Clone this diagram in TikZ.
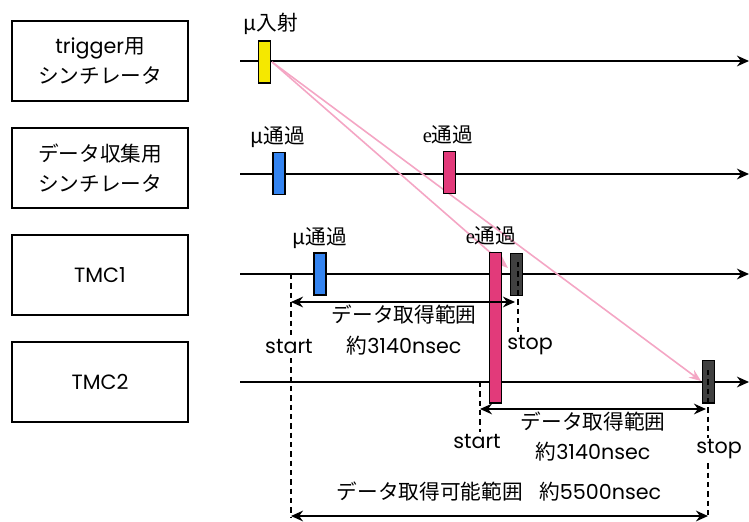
\documentclass[tikz,border=0pt]{standalone}
\usepackage{fontspec}
\setmainfont{Noto Sans CJK JP}
\newfontfamily\serifE{Liberation Serif}
\newfontfamily\lat{Poppins}
\usetikzlibrary{arrows.meta}
\definecolor{ybar}{RGB}{245,232,0}
\definecolor{bbar}{RGB}{52,132,240}
\definecolor{pbar}{RGB}{226,58,122}
\definecolor{dbar}{RGB}{64,64,64}
\definecolor{pline}{RGB}{244,166,196}
\tikzset{
  lbox/.style={draw=black, line width=1.1pt, minimum width=132pt, minimum height=60pt, align=center, inner sep=0pt, font=\fontsize{15.5}{22}\selectfont},
  tline/.style={line width=1.5pt, -{Stealth[length=9pt,width=8pt]}},
  bar/.style={draw=black, line width=1pt, minimum width=9pt, minimum height=31.5pt, inner sep=0pt},
  lab/.style={font=\fontsize{15.5}{18}\selectfont, inner sep=1pt},
  dashline/.style={line width=1.5pt, dash pattern=on 4pt off 3pt},
  rng/.style={line width=1.5pt, {Stealth[length=9pt,width=8pt]}-{Stealth[length=9pt,width=8pt]}},
  pink/.style={draw=pline, line width=1.2pt, -{Stealth[length=9pt,width=7pt]}},
  wlab/.style={font=\fontsize{15.5}{18}\selectfont, fill=white, inner sep=1pt},
}
\begin{document}
\begin{tikzpicture}[x=0.75pt,y=-0.75pt]
\useasboundingbox (0,0) rectangle (749,521);
% left boxes
\node[lbox] (b1) at (100,61) {{\lat trigger}用\\シンチレータ};
\node[lbox] (b2) at (100,168) {データ収集用\\シンチレータ};
\node[lbox] (b3) at (100,275) {\lat TMC1};
\node[lbox] (b4) at (100,382) {\lat TMC2};
% timelines
\coordinate (l1a) at (240,61); \coordinate (l1b) at (749,61);
\coordinate (l2a) at (240,174); \coordinate (l2b) at (749,174);
\coordinate (l3a) at (240,274); \coordinate (l3b) at (749,274);
\coordinate (l4a) at (240,382); \coordinate (l4b) at (749,382);
\draw[tline] (l1a) -- (l1b);
\draw[tline] (l2a) -- (l2b);
\draw[tline] (l3a) -- (l3b);
\draw[tline] (l4a) -- (l4b);
% pink propagation lines
\coordinate (src) at (272,62);
\coordinate (t1) at (508,268);
\coordinate (t2) at (701,381);
\draw[pink] (src) -- (t1);
\draw[pink] (src) -- (t2);
% bars
\node[bar, fill=ybar] (ymu) at (264.5,62) {};
\node[bar, fill=bbar] (bmu2) at (279,173.5) {};
\node[bar, fill=pbar] (pe2) at (449.5,172.5) {};
\node[bar, fill=bbar] (bmu3) at (320,274) {};
\node[bar, fill=pbar, minimum height=113pt] (pe3) at (495.5,327.5) {};
\node[bar, fill=dbar] (d3) at (516.5,274.5) {};
\node[bar, fill=dbar, minimum height=32pt] (d4) at (708.5,381.5) {};
% labels above bars
\node[lab] (lmu1) at (271,24) {μ入射};
\node[lab] (lmu2) at (278,137) {μ通過};
\node[lab] (le2) at (448,135) {{\serifE e}通過};
\node[lab] (lmu3) at (320,238) {μ通過};
\node[lab] (le3) at (491,236) {{\serifE e}通過};
% dashed markers
\coordinate (s1a) at (291,274); \coordinate (s1b) at (291,518);
\coordinate (e1a) at (518,262); \coordinate (e1b) at (518,332);
\coordinate (s2a) at (480,382); \coordinate (s2b) at (480,432);
\coordinate (e2a) at (708,370); \coordinate (e2b) at (708,518);
\draw[dashline] (s1a) -- (s1b);
\draw[dashline] (e1a) -- (e1b);
\draw[dashline] (s2a) -- (s2b);
\draw[dashline] (e2a) -- (e2b);
\node[wlab] (st1) at (289,346) {\lat start};
\node[lab] (sp1) at (530,345) {\lat stop};
\node[lab] (st2) at (477,441) {\lat start};
\node[wlab] (sp2) at (719,449) {\lat stop};
% ranges
\coordinate (r1a) at (291,302); \coordinate (r1b) at (515,302);
\coordinate (r2a) at (480,409); \coordinate (r2b) at (706,409);
\coordinate (r3a) at (291,516); \coordinate (r3b) at (708,516);
\draw[rng] (r1a) -- (r1b);
\draw[rng] (r2a) -- (r2b);
\draw[rng] (r3a) -- (r3b);
\node[lab] (rt1) at (404,315) {データ取得範囲};
\node[lab] (rn1) at (404,346) {約{\lat 3140nsec}};
\node[lab] (rt2) at (593,422) {データ取得範囲};
\node[lab] (rn2) at (593,452) {約{\lat 3140nsec}};
\node[lab] (rt3) at (499,492) {データ取得可能範囲\hspace{0.8em}約{\lat 5500nsec}};
\end{tikzpicture}
\end{document}
